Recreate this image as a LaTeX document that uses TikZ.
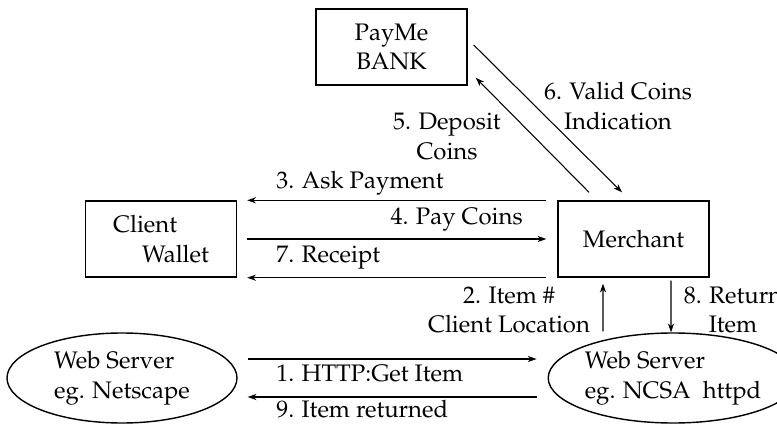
\documentclass[tikz,border=0pt]{standalone}
\usepackage[T1]{fontenc}
\usepackage{mathpazo}
\usetikzlibrary{shapes.geometric,arrows.meta}
\tikzset{
  nd_box/.style={
    rectangle, draw=black, line width=0.8pt,
    minimum width=3.02cm, minimum height=1.52cm,
    align=center, inner sep=0pt},
  nd_srv/.style={
    ellipse, draw=black, line width=0.8pt,
    minimum width=4.6cm, minimum height=1.8cm,
    align=left, inner sep=0pt},
  arr/.style={-{Stealth[length=5pt,width=3.5pt]},line width=0.6pt},
  lbl/.style={align=center,inner sep=0pt},
}

\begin{document}
\begin{tikzpicture}[x=1cm,y=1cm,font=\fontsize{13.6}{17}\selectfont]
\useasboundingbox (0,0) rectangle (15.54,8.46);

%% parties
\node[nd_box] at (7.83,7.52)  (BK){PayMe\\BANK};
\node[nd_box,align=left] at (3.22,3.68) (CW){Client\\\hspace*{0.58cm}Wallet};
\node[nd_box] at (12.67,3.68) (MC){Merchant};
\node[nd_srv] at (2.44,0.90)  (WL){Web Server\\eg. Netscape};
\node[nd_srv] at (13.46,0.90) (WR){Web Server\\eg. NCSA~ httpd};

%% labels
\node[lbl] at (12.36,6.34) (L6){6. Valid Coins\\Indication};
\node[lbl] at (8.94,5.73)  (L5){5. Deposit\\Coins};
\node[lbl,anchor=west] at (5.52,4.80) (L3){3. Ask Payment};
\node[lbl,anchor=east] at (10.46,4.06) (L4){4. Pay Coins};
\node[lbl,anchor=west] at (5.52,3.30) (L7){7. Receipt};
\node[lbl] at (10.18,2.26) (L2){2. Item \#\\Client Location};
\node[lbl] at (14.66,2.26) (L8){8. Return\\Item};
\node[lbl,anchor=west] at (5.52,1.00) (L1){1. HTTP:Get Item};
\node[lbl,anchor=west] at (5.52,0.27) (L9){9. Item returned};

%% arrows
\draw[arr] ([shift={(0.12,0.04)}]BK.east)--([shift={(-0.23,0.16)}]MC.north);
\draw[arr] ([shift={(-0.89,0.16)}]MC.north)--([shift={(0.16,0.16)}]BK.south east);

\draw[arr] ([xshift=-0.22cm]MC.north west)--([xshift=0.20cm]CW.north east);
\draw[arr] ([xshift=0.20cm]CW.east)--([xshift=-0.22cm]MC.west);
\draw[arr] ([xshift=-0.22cm]MC.south west)--([xshift=0.20cm]CW.south east);

\draw[arr] ([shift={(-1.40,0.02)}]WR.north)--([shift={(-0.61,-0.12)}]MC.south);
\draw[arr] ([shift={(0.75,-0.06)}]MC.south)--([shift={(-0.04,0)}]WR.north);

\draw[arr] ([shift={(0.20,0.38)}]WL.east)--([shift={(-0.22,0.38)}]WR.west);
\draw[arr] ([shift={(-0.22,-0.38)}]WR.west)--([shift={(0.20,-0.38)}]WL.east);

\end{tikzpicture}
\end{document}
